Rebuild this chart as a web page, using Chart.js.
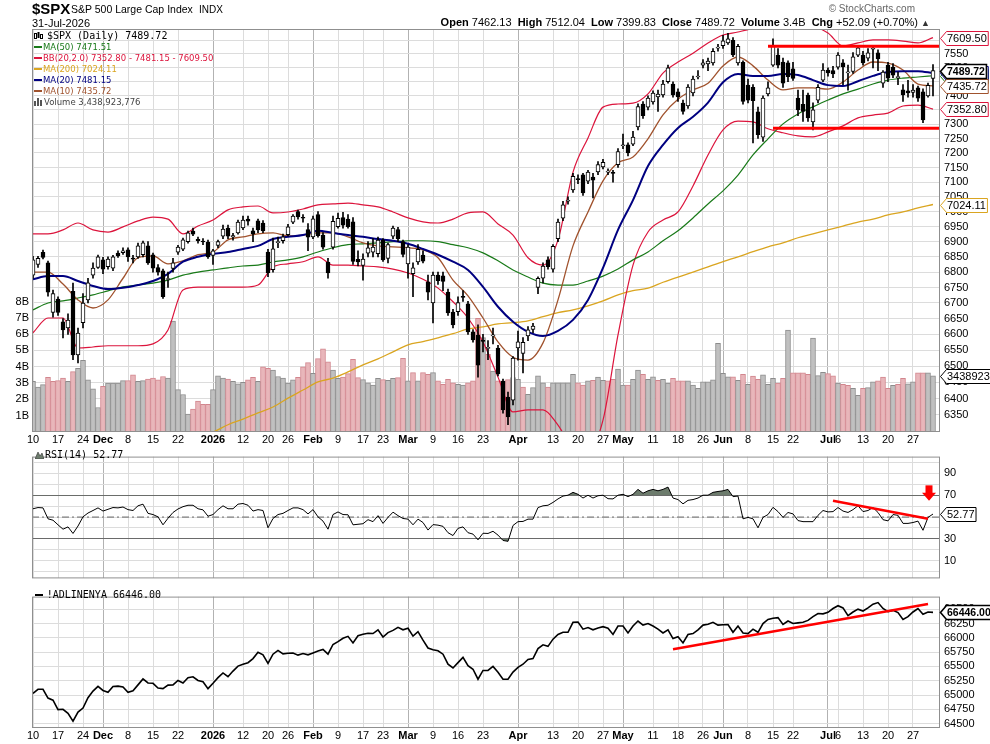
<!DOCTYPE html>
<html>
<head>
<meta charset="utf-8">
<title>$SPX S&amp;P 500 Large Cap Index</title>
<script src="https://cdn.jsdelivr.net/npm/chart.js@4.4.1/dist/chart.umd.min.js"></script>
<style>
  body { margin: 0; width: 990px; height: 744px; position: relative; overflow: hidden; background: #fff;
         font-family: "Liberation Sans", Arial, sans-serif; color: #000; }
  canvas { position: absolute; left: 0; }
  .txt { position: absolute; white-space: nowrap; z-index: 2; line-height: 1; }
  .leg { font-family: "DejaVu Sans", Verdana, sans-serif; font-size: 8.5px; line-height: 11px; }
  .mono { font-family: "DejaVu Sans Mono", "Liberation Mono", monospace; font-size: 10px; }
  .sw { display: inline-block; width: 8px; height: 2px; vertical-align: middle; margin-right: 1px; position: relative; top: -1px; }
</style>
</head>
<body>
<div class="txt" style="left:32px;top:1px;font-size:15px;font-weight:bold;">$SPX</div>
<div class="txt" style="left:71px;top:4px;font-size:10.5px;">S&amp;P 500 Large Cap Index</div>
<div class="txt" style="left:199px;top:5px;font-size:10px;">INDX</div>
<div class="txt" style="left:32px;top:18px;font-size:11px;">31-Jul-2026</div>
<div class="txt" style="right:75px;top:4px;font-size:10px;color:#666;">&copy; StockCharts.com</div>
<div class="txt" id="quote" style="right:60px;top:17px;font-size:11px;"></div>

<canvas id="priceCanvas" width="990" height="446" style="top:0;width:990px;height:446px"></canvas>
<canvas id="rsiCanvas" width="990" height="143" style="top:446px;width:990px;height:143px"></canvas>
<canvas id="adCanvas" width="990" height="158" style="top:586px;width:990px;height:158px"></canvas>

<div class="txt leg" id="priceLegend" style="left:34px;top:30px;"></div>
<div class="txt leg" id="rsiLegend" style="left:35px;top:449px;"></div>
<div class="txt leg" id="adLegend" style="left:35px;top:589px;"></div>

<script>
// trading-day axis: Nov 10 2025 .. Jul 31 2026 (181 sessions), labelled sessions
const tickIdx  = [0, 5, 10, 14, 19, 24, 29, 36, 42, 47, 51, 56, 61, 66, 70, 75, 80, 85, 90, 97,
                  104, 109, 114, 118, 124, 129, 134, 138, 143, 148, 152, 159, 161, 166, 171, 176];
const tickText = ['10', '17', '24', 'Dec', '8', '15', '22', '2026', '12', '20', '26', 'Feb', '9', '17', '23', 'Mar', '9', '16', '23', 'Apr',
                  '13', '20', '27', 'May', '11', '18', '26', 'Jun', '8', '15', '22', 'Jul', '6', '13', '20', '27'];
const monthText = ['Dec', '2026', 'Feb', 'Mar', 'Apr', 'May', 'Jun', 'Jul'];

const priceTicks = [6350, 6400, 6450, 6500, 6550, 6600, 6650, 6700, 6750, 6800, 6850, 6900, 6950,
                    7000, 7050, 7100, 7150, 7200, 7250, 7300, 7350, 7400, 7450, 7500, 7550, 7600];
const volTicks = [1, 2, 3, 4, 5, 6, 7, 8];
const rsiTicks = [0, 10, 20, 30, 40, 50, 60, 70, 80, 90, 100];
const rsiLabelled = [10, 30, 50, 70, 90];
const adTicks = [64500, 64750, 65000, 65250, 65500, 65750, 66000, 66250, 66500];

const opens = [
  6790, 6825, 6865, 6830, 6670, 6713, 6640, 6620, 6738, 6535,
  6637, 6710, 6790, 6815, 6840, 6818, 6813, 6862, 6864, 6873,
  6846, 6850, 6857, 6886, 6857, 6815, 6804, 6776, 6812, 6865,
  6875, 6900, 6935, 6908, 6902, 6899, 6855, 6888, 6918, 6945,
  6916, 6929, 6946, 6975, 6936, 6969, 6962, 6866, 6808, 6897,
  6903, 6923, 6965, 7000, 6980, 6940, 6916, 6990, 6922, 6833,
  6882, 6950, 6980, 6975, 6966, 6842, 6822, 6862, 6865, 6860,
  6905, 6845, 6918, 6940, 6900, 6827, 6795, 6833, 6856, 6768,
  6700, 6790, 6788, 6735, 6671, 6672, 6720, 6697, 6608, 6598,
  6580, 6556, 6595, 6557, 6453, 6404, 6395, 6557, 6540, 6595,
  6616, 6750, 6780, 6840, 6810, 6910, 6978, 7035, 7073, 7112,
  7125, 7103, 7117, 7135, 7152, 7134, 7132, 7160, 7225, 7228,
  7230, 7290, 7371, 7360, 7378, 7396, 7403, 7450, 7442, 7414,
  7374, 7364, 7410, 7467, 7510, 7514, 7518, 7571, 7580, 7590,
  7600, 7518, 7520, 7438, 7430, 7343, 7255, 7407, 7510, 7546,
  7521, 7518, 7496, 7392, 7370, 7403, 7308, 7385, 7456, 7492,
  7490, 7502, 7518, 7482, 7487, 7546, 7546, 7535, 7567, 7554,
  7445, 7510, 7503, 7465, 7421, 7418, 7412, 7428, 7414, 7400,
  7462.13
];
const highs = [
  6852, 6852, 6872, 6836, 6742, 6720, 6650, 6665, 6764, 6620,
  6730, 6780, 6830, 6856, 6848, 6850, 6855, 6870, 6880, 6880,
  6855, 6895, 6902, 6900, 6862, 6825, 6810, 6800, 6845, 6888,
  6912, 6935, 6945, 6915, 6910, 6905, 6875, 6905, 6955, 6955,
  6928, 6972, 6985, 6985, 6945, 6975, 6970, 6875, 6912, 6915,
  6925, 6958, 6990, 7005, 6990, 6960, 6985, 7000, 6930, 6845,
  6985, 6995, 6998, 6990, 6980, 6870, 6860, 6900, 6910, 6915,
  6910, 6895, 6952, 6948, 6905, 6890, 6830, 6890, 6870, 6790,
  6800, 6800, 6800, 6745, 6680, 6720, 6740, 6705, 6615, 6630,
  6600, 6580, 6620, 6565, 6460, 6420, 6530, 6610, 6590, 6625,
  6635, 6785, 6830, 6850, 6890, 6975, 7035, 7050, 7130, 7125,
  7130, 7140, 7130, 7170, 7178, 7145, 7140, 7215, 7265, 7235,
  7275, 7372, 7380, 7400, 7418, 7420, 7455, 7510, 7450, 7425,
  7385, 7440, 7470, 7490, 7530, 7535, 7570, 7585, 7618, 7625,
  7610, 7585, 7525, 7460, 7440, 7360, 7400, 7450, 7605, 7570,
  7535, 7525, 7520, 7420, 7420, 7410, 7375, 7440, 7515, 7500,
  7505, 7555, 7530, 7510, 7555, 7578, 7560, 7570, 7580, 7565,
  7490, 7520, 7515, 7485, 7440, 7455, 7440, 7435, 7425, 7445,
  7512.04
];
const lows = [
  6780, 6815, 6843, 6722, 6655, 6660, 6589, 6600, 6520, 6510,
  6620, 6700, 6780, 6812, 6795, 6810, 6805, 6848, 6858, 6835,
  6830, 6845, 6850, 6825, 6800, 6790, 6715, 6750, 6800, 6858,
  6870, 6895, 6920, 6895, 6890, 6845, 6825, 6880, 6910, 6910,
  6905, 6925, 6940, 6955, 6900, 6930, 6930, 6785, 6800, 6880,
  6895, 6918, 6960, 6975, 6965, 6870, 6910, 6915, 6875, 6780,
  6875, 6945, 6945, 6945, 6825, 6820, 6774, 6850, 6850, 6850,
  6835, 6830, 6910, 6900, 6850, 6780, 6720, 6825, 6830, 6710,
  6636, 6760, 6740, 6660, 6620, 6660, 6705, 6600, 6575, 6466,
  6545, 6520, 6570, 6470, 6355, 6320, 6380, 6519, 6479, 6580,
  6605, 6730, 6765, 6810, 6800, 6900, 6970, 7025, 7065, 7095,
  7055, 7095, 7046, 7125, 7145, 7125, 7100, 7150, 7215, 7190,
  7225, 7280, 7320, 7350, 7370, 7345, 7395, 7445, 7395, 7380,
  7335, 7355, 7400, 7460, 7500, 7490, 7510, 7560, 7570, 7585,
  7540, 7510, 7370, 7375, 7235, 7250, 7240, 7400, 7505, 7500,
  7430, 7450, 7455, 7330, 7310, 7310, 7280, 7375, 7450, 7470,
  7465, 7495, 7440, 7420, 7480, 7540, 7510, 7525, 7500, 7490,
  7430, 7450, 7465, 7440, 7380, 7395, 7395, 7380, 7305, 7395,
  7399.83
];
const closes = [
  6840, 6845, 6848, 6735, 6730, 6670, 6614, 6645, 6535, 6604,
  6700, 6765, 6813, 6850, 6810, 6843, 6850, 6853, 6870, 6850,
  6842, 6886, 6896, 6830, 6813, 6800, 6720, 6778, 6830, 6882,
  6906, 6929, 6925, 6903, 6899, 6850, 6870, 6900, 6942, 6918,
  6920, 6965, 6972, 6968, 6926, 6939, 6936, 6797, 6876, 6900,
  6916, 6949, 6985, 6982, 6978, 6915, 6976, 6920, 6882, 6797,
  6968, 6978, 6955, 6950, 6835, 6833, 6843, 6880, 6882, 6905,
  6840, 6890, 6945, 6910, 6858, 6882, 6814, 6875, 6836, 6735,
  6790, 6772, 6770, 6668, 6630, 6701, 6718, 6608, 6582, 6503,
  6578, 6557, 6596, 6476, 6365, 6344, 6525, 6576, 6575, 6614,
  6626, 6780, 6820, 6818, 6885, 6965, 7023, 7037, 7120, 7108,
  7063, 7134, 7107, 7160, 7168, 7136, 7130, 7205, 7228, 7200,
  7255, 7362, 7330, 7392, 7410, 7406, 7442, 7500, 7403, 7396,
  7345, 7431, 7460, 7470, 7518, 7524, 7560, 7572, 7598, 7605,
  7547, 7578, 7380, 7385, 7383, 7263, 7392, 7428, 7580, 7510,
  7445, 7468, 7462, 7350, 7345, 7322, 7350, 7430, 7492, 7482,
  7478, 7546, 7503, 7484, 7540, 7572, 7518, 7554, 7569, 7532,
  7485, 7463, 7474, 7468, 7403, 7410, 7420, 7392, 7315, 7437.63,
  7489.72
];
// volume in billions of shares
const volumes = [
  3.1, 2.75, 2.9, 3.35, 3.1, 3.15, 3.3, 3.1, 3.7, 3.9,
  4.4, 3.2, 2.65, 1.5, 2.8, 3.0, 3.0, 3.0, 3.15, 3.15,
  3.5, 3.1, 3.15, 3.25, 3.3, 3.2, 3.4, 3.3, 6.8, 2.6,
  2.3, 1.1, 1.4, 1.9, 1.7, 1.7, 2.6, 3.45, 3.3, 3.25,
  3.1, 2.95, 3.05, 3.2, 3.35, 3.1, 4.0, 3.9, 3.8, 3.4,
  3.3, 3.0, 3.2, 3.35, 4.0, 4.25, 3.6, 4.5, 5.1, 4.3,
  3.8, 3.29, 3.37, 3.58, 4.46, 3.33, 3.21, 3.02, 2.88, 3.29,
  3.21, 3.17, 3.29, 3.33, 4.52, 3.13, 3.64, 3.13, 3.64, 3.54,
  3.64, 3.13, 2.92, 3.23, 3.02, 2.92, 2.88, 3.02, 3.13, 6.97,
  5.78, 4.76, 3.74, 3.13, 3.13, 3.21, 3.33, 3.23, 2.76, 2.31,
  2.72, 3.44, 3.02, 2.76, 3.02, 3.02, 3.02, 3.02, 3.54, 3.02,
  2.88, 3.13, 3.17, 3.37, 3.17, 3.13, 3.23, 3.85, 2.88, 2.88,
  3.23, 3.79, 3.54, 3.23, 3.38, 3.17, 3.23, 3.0, 3.29, 3.13,
  3.13, 3.13, 2.88, 2.68, 3.07, 3.07, 3.19, 5.44, 3.6, 3.38,
  3.38, 3.17, 3.54, 2.92, 3.42, 3.23, 3.5, 2.92, 3.29, 3.0,
  3.29, 6.24, 3.62, 3.62, 3.62, 3.54, 5.75, 3.46, 3.66, 3.58,
  3.44, 3.0, 2.92, 2.86, 2.68, 2.25, 2.68, 2.72, 3.07, 3.13,
  3.36, 2.68, 2.86, 2.92, 3.29, 2.96, 3.07, 3.62, 3.62, 3.62,
  3.438923776
];
const lastVolumeShares = 3438923776;

// overlays read every 3rd session (0, 3, 6 ... 180)
const ma10 = [6800, 6800, 6761, 6710, 6684, 6710, 6780, 6847, 6853, 6827, 6837, 6857, 6866, 6906, 6916, 6926,
  6929, 6919, 6922, 6929, 6929, 6916, 6896, 6886, 6883, 6880, 6873, 6847, 6774, 6723, 6652, 6576, 6528, 6519,
  6573, 6710, 6886, 6999, 7104, 7166, 7186, 7249, 7333, 7388, 7421, 7445, 7507, 7539, 7507, 7456, 7421, 7428,
  7428, 7424, 7449, 7492, 7521, 7517, 7492, 7442, 7435.72];
const ma20 = [6777, 6787, 6787, 6771, 6755, 6745, 6749, 6758, 6771, 6794, 6834, 6850, 6860, 6866, 6876, 6886,
  6909, 6916, 6922, 6936, 6929, 6922, 6916, 6909, 6903, 6893, 6876, 6857, 6834, 6807, 6752, 6688, 6640, 6608,
  6595, 6611, 6646, 6710, 6814, 6939, 7039, 7155, 7228, 7287, 7326, 7376, 7448, 7478, 7471, 7471, 7478, 7474,
  7456, 7438, 7435, 7452, 7471, 7485, 7488, 7488, 7481.15];
const ma50 = [6678, 6700, 6707, 6716, 6726, 6739, 6752, 6758, 6764, 6774, 6790, 6800, 6807, 6814, 6820, 6823,
  6833, 6840, 6850, 6866, 6880, 6890, 6893, 6896, 6900, 6903, 6903, 6900, 6890, 6880, 6863, 6837, 6807, 6784,
  6764, 6758, 6758, 6771, 6787, 6810, 6840, 6866, 6903, 6936, 6979, 7026, 7070, 7124, 7193, 7249, 7301, 7336,
  7361, 7385, 7407, 7424, 7442, 7456, 7463, 7467, 7471.51];
const ma200 = [null, null, null, null, null, null, null, null, null, null, null, 6285, 6298, 6320, 6337, 6356,
  6374, 6401, 6426, 6451, 6463, 6482, 6504, 6523, 6545, 6567, 6577, 6589, 6602, 6617, 6624, 6633, 6637, 6643,
  6656, 6669, 6678, 6691, 6707, 6726, 6740, 6748, 6767, 6784, 6800, 6817, 6834, 6850, 6867, 6883, 6896, 6913,
  6926, 6939, 6952, 6965, 6975, 6989, 6999, 7013, 7024.11];
const bbUpper = [6926, 6926, 6939, 6962, 6939, 6932, 6949, 6969, 6982, 6975, 6926, 6952, 6972, 7006, 7016, 7019,
  6996, 6999, 7009, 7023, 7026, 7029, 7023, 7016, 6999, 6979, 6966, 6962, 6975, 6996, 6999, 6959, 6922, 6847,
  6823, 6906, 7134, 7252, 7360, 7371, 7374, 7407, 7481, 7521, 7553, 7590, 7619, 7630, 7645, 7675, 7690, 7680,
  7655, 7626, 7579, 7590, 7601, 7601, 7597, 7590, 7609.50];
const bbLower = [6605, 6652, 6652, 6557, 6560, 6564, 6564, 6564, 6570, 6614, 6742, 6751, 6751, 6751, 6751, 6758,
  6817, 6827, 6834, 6850, 6823, 6823, 6820, 6817, 6810, 6797, 6777, 6748, 6704, 6652, 6576, 6466, 6359, 6365,
  6365, 6319, 6250, 6240, 6334, 6598, 6823, 6932, 6972, 6999, 7087, 7193, 7280, 7311, 7308, 7284, 7270, 7259,
  7256, 7273, 7294, 7322, 7332, 7339, 7364, 7367, 7352.80];

const rsi = [
  57.6, 58.7, 58.4, 48.4, 47.1, 42.9, 38.9, 41.0, 35.0, 41.8,
  50.2, 53.7, 56.0, 58.4, 55.5, 57.1, 58.7, 58.4, 59.2, 56.8,
  56.0, 60.3, 61.8, 53.4, 52.3, 50.2, 42.9, 48.9, 54.2, 57.4,
  59.5, 60.8, 60.8, 57.6, 56.6, 50.8, 52.3, 56.8, 60.3, 57.6,
  57.6, 61.8, 62.4, 60.8, 55.5, 56.8, 56.0, 40.2, 48.7, 52.3,
  53.4, 56.0, 58.4, 58.4, 56.8, 52.9, 56.8, 50.2, 46.3, 38.9,
  52.3, 54.7, 52.3, 52.1, 42.9, 43.4, 43.9, 47.6, 45.8, 51.3,
  44.2, 49.7, 54.5, 51.3, 48.7, 48.1, 42.9, 48.1, 45.0, 38.1,
  43.1, 42.6, 41.5, 35.7, 33.1, 39.7, 41.0, 35.7, 34.4, 29.2,
  35.2, 35.0, 37.0, 33.5, 28.6, 27.8, 42.3, 45.8, 46.0, 48.1,
  48.1, 58.7, 60.3, 60.8, 63.4, 66.6, 69.2, 70.0, 72.6, 70.8,
  67.4, 70.0, 67.4, 69.5, 70.0, 66.8, 66.6, 70.0, 70.8, 68.7,
  70.8, 75.3, 71.8, 74.0, 75.3, 74.0, 75.3, 77.4, 67.4, 66.0,
  62.1, 65.3, 66.0, 67.4, 70.0, 70.0, 72.6, 73.4, 74.0, 75.3,
  68.7, 69.2, 48.4, 49.7, 48.4, 40.2, 49.7, 52.3, 58.9, 55.0,
  49.7, 54.2, 52.9, 46.8, 45.8, 45.8, 45.8, 51.6, 56.0, 54.7,
  55.0, 58.7, 55.5, 54.2, 56.8, 60.3, 55.0, 56.0, 58.7, 54.2,
  47.6, 46.5, 52.3, 51.6, 44.2, 44.2, 45.0, 46.3, 37.9, 49.7,
  52.77
];
const adLine = [
  65030, 65101, 65101, 64948, 64910, 64746, 64751, 64680, 64544, 64702,
  64773, 64954, 65069, 65151, 65080, 65047, 65151, 65156, 65140, 65047,
  65074, 65178, 65282, 65211, 65205, 65123, 65112, 65173, 65178, 65255,
  65211, 65304, 65320, 65255, 65233, 65112, 65205, 65304, 65386, 65320,
  65419, 65506, 65539, 65566, 65637, 65747, 65703, 65555, 65714, 65780,
  65720, 65730, 65736, 65698, 65725, 65703, 65736, 65769, 65796, 65714,
  65884, 65933, 65993, 66026, 65911, 66037, 66064, 66080, 66075, 66141,
  66015, 66091, 66130, 66184, 66141, 66168, 66031, 66108, 65960, 65823,
  65791, 65774, 65714, 65539, 65473, 65566, 65659, 65512, 65451, 65277,
  65430, 65430, 65500, 65400, 65276, 65276, 65402, 65484, 65539, 65621,
  65637, 65812, 65878, 65851, 65977, 66059, 66097, 66097, 66272, 66277,
  66152, 66179, 66141, 66173, 66195, 66168, 66059, 66206, 66206, 66086,
  66206, 66294, 66223, 66250, 66206, 66152, 66086, 66141, 65987, 66020,
  65911, 66059, 66075, 66141, 66223, 66239, 66272, 66223, 66228, 66234,
  66097, 66206, 66086, 66075, 66152, 66097, 66250, 66321, 66343, 66354,
  66234, 66294, 66250, 66261, 66272, 66305, 66370, 66425, 66420, 66447,
  66513, 66562, 66523, 66387, 66452, 66502, 66469, 66523, 66589, 66616,
  66513, 66458, 66480, 66441, 66321, 66370, 66452, 66513, 66414, 66452,
  66446.00
];

// hand-drawn annotations (session index, value)
const resistanceDays = [147, 181.4], resistanceLevel = 7578;
const supportDays = [148, 181.4], supportLevel = 7286;
const rsiTrendDays = [160, 179], rsiTrendVals = [65.0, 48.4];
const adTrendDays = [128, 179], adTrendVals = [65802, 66590];
const rsiArrow = { day: 179.2, top: 79, tip: 65 };

// ---------- chart setup ----------
const FONT = '"Liberation Sans", Arial, sans-serif';
Chart.defaults.font.family = FONT;
Chart.defaults.font.size = 11;
Chart.defaults.color = '#000';
Chart.defaults.animation = false;
Chart.defaults.events = [];
Chart.defaults.plugins.legend.display = false;
Chart.defaults.plugins.tooltip.enabled = false;

const C = {
  ma50: '#197a19', bb: '#dc143c', ma200: '#daa520', ma20: '#000080', ma10: '#a0522d',
  grid: '#dcdcdc', gridMonth: '#b2b2b2', frame: '#8f8f8f',
  volUp: '#c0c0c0', volUpEdge: '#8c8c8c', volDn: '#e8b6ba', volDnEdge: '#d2868e',
  rsiFill: '#6d7c6d', red: '#ff0000'
};
const N = closes.length;
const idx = closes.map((_, i) => i);
const ovIdx = ma10.map((_, k) => k * 3);
const xMin = -0.2, xMax = 181.4;
const last = arr => arr[arr.length - 1];

function isMonth(c) {
  if (!c.tick) return false;
  const k = tickIdx.indexOf(c.tick.value);
  return k >= 0 && monthText.includes(tickText[k]);
}

function xAxis(showLabels, height) {
  return {
    type: 'linear', min: xMin, max: xMax, offset: false,
    afterBuildTicks: ax => { ax.ticks = tickIdx.map(v => ({ value: v })); },
    afterFit: ax => { ax.height = height; },
    grid: { offset: false, drawTicks: false, color: c => isMonth(c) ? C.gridMonth : C.grid },
    border: { display: false },
    ticks: {
      display: showLabels, autoSkip: false, maxRotation: 0, minRotation: 0, padding: 1,
      font: c => ({ family: FONT, size: 11, weight: isMonth(c) ? 'bold' : 'normal' }),
      callback: (v, i) => tickText[i]
    }
  };
}

function rightAxis(extra, gridColor) {
  return Object.assign({
    position: 'right',
    afterFit: ax => { ax.width = 50; },
    grid: { color: gridColor || C.grid, drawTicks: false },
    border: { display: false }
  }, extra);
}

function rightTicks(callback) {
  return { padding: 4, autoSkip: false, font: { family: FONT, size: 11 }, callback };
}

// frame around the plot plus the boxed last-value tags on the right
function framePlugin(tags, extra) {
  return {
    id: 'frameAndTags',
    afterDraw(chart) {
      const { ctx, chartArea: a } = chart;
      ctx.save();
      ctx.strokeStyle = C.frame;
      ctx.lineWidth = 1;
      ctx.strokeRect(a.left + 0.5, a.top + 0.5, a.right - a.left - 1, a.bottom - a.top - 1);
      if (extra) extra(chart);
      tags.forEach(t => {
        const y = Math.round(chart.scales[t.axis].getPixelForValue(t.value)) + 0.5;
        ctx.font = (t.bold ? 'bold 10.5px ' : '11px ') + FONT;
        const w = ctx.measureText(t.text).width;
        const x0 = a.right + 0.5, h = 7;
        ctx.beginPath();
        ctx.moveTo(x0, y);
        ctx.lineTo(x0 + 6, y - h);
        ctx.lineTo(x0 + 8 + w, y - h);
        ctx.lineTo(x0 + 8 + w, y + h);
        ctx.lineTo(x0 + 6, y + h);
        ctx.closePath();
        ctx.fillStyle = '#fff';
        ctx.fill();
        ctx.lineWidth = t.bold ? 1.6 : 1;
        ctx.strokeStyle = t.color;
        ctx.stroke();
        ctx.fillStyle = '#000';
        ctx.textBaseline = 'middle';
        ctx.fillText(t.text, x0 + 6.5, y + 0.5);
      });
      ctx.restore();
    }
  };
}

function overlay(values, color, width, order) {
  return {
    type: 'line', yAxisID: 'y', order,
    data: ovIdx.map((x, k) => ({ x, y: values[k] })),
    borderColor: color, borderWidth: width, pointRadius: 0,
    cubicInterpolationMode: 'monotone', spanGaps: false
  };
}

function flatLine(days, level, axis, color, width, order, dash) {
  return {
    type: 'line', yAxisID: axis, order,
    data: days.map(d => ({ x: d, y: level })),
    borderColor: color, borderWidth: width, pointRadius: 0, borderDash: dash || []
  };
}

// ---------- price panel ----------
const volDown = idx.map(i => i > 0 && closes[i] < closes[i - 1]);

new Chart(document.getElementById('priceCanvas'), {
  type: 'bar',
  data: {
    datasets: [
      {
        label: 'Volume', yAxisID: 'yv', order: 50,
        data: idx.map(i => ({ x: i, y: volumes[i] })),
        backgroundColor: idx.map(i => volDown[i] ? C.volDn : C.volUp),
        borderColor: idx.map(i => volDown[i] ? C.volDnEdge : C.volUpEdge),
        borderWidth: 1, barPercentage: 1, categoryPercentage: 1, grouped: false
      },
      overlay(ma200, C.ma200, 1.3, 40),
      overlay(bbUpper, C.bb, 1.2, 35),
      overlay(bbLower, C.bb, 1.2, 35),
      overlay(ma50, C.ma50, 1.2, 30),
      overlay(ma10, C.ma10, 1.3, 25),
      overlay(ma20, C.ma20, 2, 20),
      {
        label: 'wick', yAxisID: 'y', order: 10,
        data: idx.map(i => ({ x: i, y: [lows[i], highs[i]] })),
        backgroundColor: '#000', barThickness: 1, grouped: false, borderWidth: 0
      },
      {
        label: 'body', yAxisID: 'y', order: 5,
        data: idx.map(i => ({ x: i, y: [opens[i], closes[i]] })),
        backgroundColor: idx.map(i => closes[i] >= opens[i] ? '#fff' : '#000'),
        borderColor: '#000', borderWidth: 1, borderSkipped: false,
        barThickness: 4, minBarLength: 1, grouped: false
      },
      flatLine(resistanceDays, resistanceLevel, 'y', C.red, 3, 1),
      flatLine(supportDays, supportLevel, 'y', C.red, 3, 1)
    ]
  },
  options: {
    responsive: false,
    layout: { padding: { top: 29, left: 0, right: 0, bottom: 0 } },
    scales: {
      x: xAxis(true, 14),
      y: rightAxis({
        type: 'logarithmic', min: 6298, max: 7641,
        afterBuildTicks: ax => { ax.ticks = priceTicks.map(v => ({ value: v })); },
        ticks: rightTicks(v => String(v))
      }),
      yv: {
        type: 'linear', position: 'left', min: 0, max: 24.7,
        afterBuildTicks: ax => { ax.ticks = volTicks.map(v => ({ value: v })); },
        afterFit: ax => { ax.width = 32; },
        grid: { display: false, drawTicks: false },
        border: { display: false },
        ticks: { padding: 3, autoSkip: false, font: { family: FONT, size: 11 }, callback: v => v + 'B' }
      }
    }
  },
  plugins: [framePlugin([
    { axis: 'y', value: last(ma50), color: C.ma50, text: last(ma50).toFixed(2) },
    { axis: 'y', value: last(ma20), color: C.ma20, text: last(ma20).toFixed(2) },
    { axis: 'y', value: last(bbUpper), color: C.bb, text: last(bbUpper).toFixed(2) },
    { axis: 'y', value: last(ma10), color: C.ma10, text: last(ma10).toFixed(2) },
    { axis: 'y', value: last(bbLower), color: C.bb, text: last(bbLower).toFixed(2) },
    { axis: 'y', value: last(ma200), color: C.ma200, text: last(ma200).toFixed(2) },
    { axis: 'yv', value: last(volumes), color: '#000', text: String(Math.floor(lastVolumeShares / 100)) },
    { axis: 'y', value: last(closes), color: '#000', text: last(closes).toFixed(2), bold: true }
  ])]
});

// ---------- RSI panel ----------
const rsiPts = idx.map(i => ({ x: i, y: rsi[i] }));
new Chart(document.getElementById('rsiCanvas'), {
  type: 'line',
  data: {
    datasets: [
      flatLine([xMin, xMax], 50, 'y', '#666', 1, 20, [7, 3, 2, 3]),
      {
        data: rsiPts, borderColor: '#000', borderWidth: 1, pointRadius: 0, order: 5,
        fill: { target: { value: 70 }, above: C.rsiFill, below: 'rgba(0,0,0,0)' }
      },
      {
        data: rsiPts, borderWidth: 0, pointRadius: 0, order: 6,
        fill: { target: { value: 30 }, above: 'rgba(0,0,0,0)', below: C.rsiFill }
      },
      {
        data: rsiTrendDays.map((d, k) => ({ x: d, y: rsiTrendVals[k] })),
        borderColor: C.red, borderWidth: 2.5, pointRadius: 0, order: 1
      }
    ]
  },
  options: {
    responsive: false,
    layout: { padding: { top: 1, left: 32, right: 0, bottom: 1 } },
    scales: {
      x: xAxis(false, 0),
      y: rightAxis({
        type: 'linear', min: -6.1, max: 105.3,
        afterBuildTicks: ax => { ax.ticks = rsiTicks.map(v => ({ value: v })); },
        ticks: rightTicks(v => rsiLabelled.includes(v) ? String(v) : '')
      }, c => (c.tick && (c.tick.value === 30 || c.tick.value === 70)) ? '#6a6a6a' : C.grid)
    }
  },
  plugins: [framePlugin(
    [{ axis: 'y', value: last(rsi), color: '#000', text: last(rsi).toFixed(2) }],
    chart => {
      const { ctx } = chart;
      const x = chart.scales.x.getPixelForValue(rsiArrow.day);
      const y0 = chart.scales.y.getPixelForValue(rsiArrow.top);
      const y1 = chart.scales.y.getPixelForValue(rsiArrow.tip);
      const mid = y0 + (y1 - y0) * 0.48;
      ctx.fillStyle = C.red;
      ctx.fillRect(x - 3.5, y0, 7, mid - y0 + 0.5);
      ctx.beginPath();
      ctx.moveTo(x - 7, mid);
      ctx.lineTo(x + 7, mid);
      ctx.lineTo(x, y1);
      ctx.closePath();
      ctx.fill();
    }
  )]
});

// ---------- A/D line panel ----------
new Chart(document.getElementById('adCanvas'), {
  type: 'line',
  data: {
    datasets: [
      {
        data: idx.map(i => ({ x: i, y: adLine[i] })),
        borderColor: '#000', borderWidth: 1.6, pointRadius: 0, order: 5
      },
      {
        data: adTrendDays.map((d, k) => ({ x: d, y: adTrendVals[k] })),
        borderColor: C.red, borderWidth: 2.5, pointRadius: 0, order: 1
      }
    ]
  },
  options: {
    responsive: false,
    layout: { padding: { top: 2, left: 32, right: 0, bottom: 0 } },
    scales: {
      x: xAxis(true, 16),
      y: rightAxis({
        type: 'linear', min: 64424, max: 66721,
        afterBuildTicks: ax => { ax.ticks = adTicks.map(v => ({ value: v })); },
        ticks: rightTicks(v => String(v))
      })
    }
  },
  plugins: [framePlugin([{ axis: 'y', value: last(adLine), color: '#000', text: last(adLine).toFixed(2), bold: true }])]
});

// ---------- text: quote line and legends ----------
const prevClose = closes[N - 2];
const chg = last(closes) - prevClose;
document.getElementById('quote').innerHTML =
  '<b>Open</b> ' + last(opens).toFixed(2) + ' &nbsp;<b>High</b> ' + last(highs).toFixed(2) +
  ' &nbsp;<b>Low</b> ' + last(lows).toFixed(2) + ' &nbsp;<b>Close</b> ' + last(closes).toFixed(2) +
  ' &nbsp;<b>Volume</b> ' + (lastVolumeShares / 1e9).toFixed(1) + 'B &nbsp;<b>Chg</b> +' + chg.toFixed(2) +
  ' (+' + (chg / prevClose * 100).toFixed(2) + '%) <span style="font-size:9px;color:#333">&#9650;</span>';

const candleIcon = '<svg width="10" height="9" style="vertical-align:-1px;margin-right:3px"><rect x="0.5" y="2.5" width="2" height="5" fill="#fff" stroke="#000"/><rect x="3.5" y="1" width="2" height="6" fill="#000"/><rect x="6.5" y="3.5" width="2" height="4" fill="#fff" stroke="#000"/></svg>';
const sw = c => '<span class="sw" style="background:' + c + '"></span>';
document.getElementById('priceLegend').innerHTML = [
  candleIcon + '<span class="mono">$SPX (Daily) ' + last(closes).toFixed(2) + '</span>',
  sw(C.ma50) + '<span style="color:' + C.ma50 + '">MA(50) ' + last(ma50).toFixed(2) + '</span>',
  sw(C.bb) + '<span style="color:' + C.bb + '">BB(20,2.0) ' + last(bbLower).toFixed(2) + ' - ' + last(ma20).toFixed(2) + ' - ' + last(bbUpper).toFixed(2) + '</span>',
  sw(C.ma200) + '<span style="color:' + C.ma200 + '">MA(200) ' + last(ma200).toFixed(2) + '</span>',
  sw(C.ma20) + '<span style="color:' + C.ma20 + '">MA(20) ' + last(ma20).toFixed(2) + '</span>',
  sw(C.ma10) + '<span style="color:' + C.ma10 + '">MA(10) ' + last(ma10).toFixed(2) + '</span>',
  '<svg width="9" height="8" style="vertical-align:-1px;margin-right:1px"><rect x="0" y="3" width="2" height="5" fill="#555"/><rect x="3" y="0" width="2" height="8" fill="#555"/><rect x="6" y="2" width="2" height="6" fill="#555"/></svg><span style="color:#444">Volume ' + lastVolumeShares.toLocaleString('en-US') + '</span>'
].join('<br>');
document.getElementById('rsiLegend').innerHTML =
  '<svg width="9" height="8" style="vertical-align:-1px;margin-right:1px"><path d="M0 8 L3 1 L5 5 L7 2 L9 8 Z" fill="' + C.rsiFill + '" stroke="#333" stroke-width="0.6"/></svg><span class="mono">RSI(14) ' + last(rsi).toFixed(2) + '</span>';
document.getElementById('adLegend').innerHTML = sw('#000') + ' <span class="mono">!ADLINENYA ' + last(adLine).toFixed(2) + '</span>';
</script>
</body>
</html>
